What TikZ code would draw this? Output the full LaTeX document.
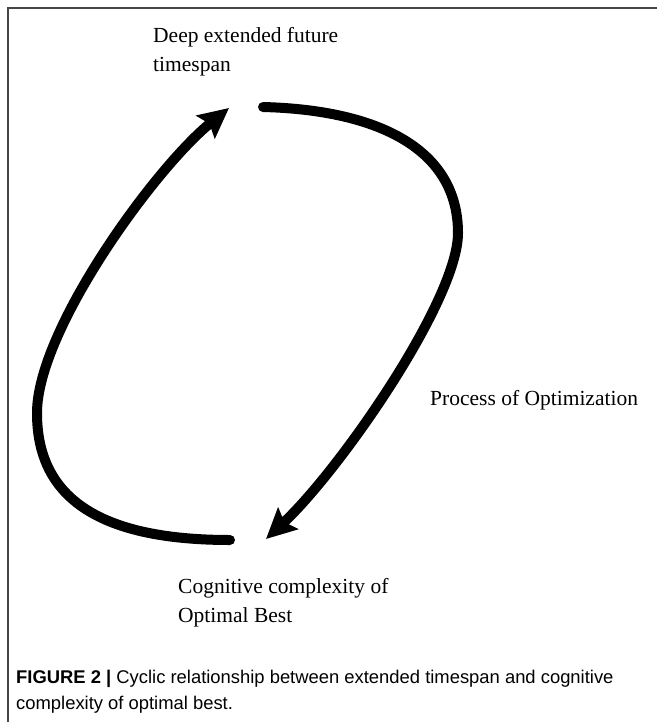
\documentclass[tikz,border=0pt]{standalone}
\usepackage{fontspec}
\setmainfont{Liberation Serif}
\newfontfamily\capfont{Liberation Sans}
\usetikzlibrary{arrows.meta}
\begin{document}
\begin{tikzpicture}[x=1pt,y=-1pt,
  lbl/.style={font=\fontsize{21.5}{29}\selectfont, align=left, inner sep=0pt, anchor=base west},
  captext/.style={font=\capfont\fontsize{18.4}{26}\selectfont, align=left, inner sep=0pt, anchor=base west},
  cyc/.style={line width=10pt, line cap=round, -{Stealth[length=30pt,width=29pt,inset=5pt]}},
  framestyle/.style={line width=1.3pt, draw={rgb,255:red,70;green,70;blue,70}}]
\useasboundingbox (0,0) rectangle (657,722);
\draw[framestyle] (8,722) -- (8,8) -- (657,8);
% labels (anchor = baseline of last line)
\node[lbl] (top) at (153,72) {Deep extended future\\timespan};
\node[lbl] (proc) at (430,405) {Process of Optimization};
\node[lbl] (bot) at (178,622) {Cognitive complexity of\\Optimal Best};
\node[captext] (caption) at (16,709) {\textbf{FIGURE 2 |} Cyclic relationship between extended timespan and cognitive\\complexity of optimal best.};
% arc ends
\coordinate (rs) at (263,107);
\coordinate (rm) at (458,233);
\coordinate (re) at (266,539);
\coordinate (ls) at (230,540);
\coordinate (lm) at (37,413);
\coordinate (le) at (229,108);
\draw[cyc] (rs) .. controls (380,110) and (458,150) .. (rm)
  .. controls (458,300) and (340,470) .. (re);
\draw[cyc] (ls) .. controls (95,540) and (37,495) .. (lm)
  .. controls (37,330) and (155,168) .. (le);
\end{tikzpicture}
\end{document}
